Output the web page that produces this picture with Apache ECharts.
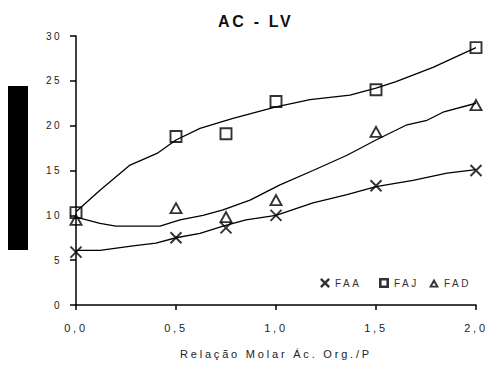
<!DOCTYPE html>
<html>
<head>
<meta charset="utf-8">
<script src="https://cdn.jsdelivr.net/npm/echarts@6/dist/echarts.min.js"></script>
<style>
  html, body { margin: 0; padding: 0; background: #fff; }
  #chart { width: 487px; height: 367px; }
</style>
</head>
<body>
<div id="chart"></div>
<script>
// Measured points (molar ratio, value) for each formulation
const ratios = [0.0, 0.5, 0.75, 1.0, 1.5, 2.0];
const faa = [5.9, 7.5, 8.6, 10.0, 13.3, 15.0];
const faj = [10.3, 18.8, 19.1, 22.7, 24.0, 28.7];
const fad = [9.5, 10.8, 9.8, 11.7, 19.3, 22.3];

// Trend curves traced as [ratio, value] pairs
const faaTrend = [[0, 6.1], [0.12, 6.1], [0.285, 6.6], [0.4, 6.9], [0.5, 7.5], [0.62, 8.0],
  [0.735, 8.8], [0.85, 9.5], [1.0, 10.0], [1.185, 11.4], [1.355, 12.3], [1.5, 13.2],
  [1.685, 13.9], [1.855, 14.7], [2.0, 15.1]];
const fajTrend = [[0, 10.4], [0.12, 12.8], [0.27, 15.6], [0.405, 16.9], [0.5, 18.4],
  [0.62, 19.7], [0.785, 20.8], [1.0, 22.1], [1.17, 22.9], [1.37, 23.4], [1.5, 24.2],
  [1.6, 24.9], [1.785, 26.5], [2.0, 28.7]];
const fadTrend = [[0, 9.8], [0.12, 9.1], [0.2, 8.8], [0.42, 8.8], [0.52, 9.5], [0.635, 10.0],
  [0.735, 10.6], [0.87, 11.7], [1.02, 13.4], [1.185, 15.0], [1.355, 16.7], [1.5, 18.4],
  [1.655, 20.1], [1.755, 20.6], [1.835, 21.5], [2.0, 22.5]];

const seriesNames = ['FAA', 'FAJ', 'FAD'];
const xTicks = { min: 0, max: 2, interval: 0.5 };
const yTicks = { min: 0, max: 30, interval: 5 };

const pair = (xs, ys) => xs.map((x, i) => [x, ys[i]]);
const crossPath = 'path://M0,0L10,10M10,0L0,10';
const font = 'Liberation Sans, Arial, sans-serif';

// Bold solid legend keys (outlines drawn as filled shapes with holes)
const legendIcons = [
  'path://M0,1.7L1.7,0L5,3.3L8.3,0L10,1.7L6.7,5L10,8.3L8.3,10L5,6.7L1.7,10L0,8.3L3.3,5Z',
  'path://M0,0L10,0L10,10L0,10Z M2.6,2.6L2.6,7.4L7.4,7.4L7.4,2.6Z',
  'path://M5,0L10,9L0,9Z M5,4.3L3.1,7.3L6.9,7.3Z'
];

// Tracking (letter spacing) per text size, applied to the SVG text nodes
const tracking = { 16: 2.7, 10: 2.5, 11: 2.8 };

const chart = echarts.init(document.getElementById('chart'), null, { renderer: 'svg' });

function trend(data, name) {
  return {
    name: name, type: 'line', data: data, symbol: 'none', silent: true,
    lineStyle: { color: '#000', width: 1.3 }, z: 2
  };
}

function legendAt(i, left) {
  return {
    data: [{ name: seriesNames[i], icon: legendIcons[i],
             itemStyle: { color: '#000', borderWidth: 0 } }],
    left: left, top: 273,
    itemWidth: 10, itemHeight: 10,
    itemStyle: { color: '#000', borderWidth: 0 },
    textStyle: { fontFamily: font, fontSize: 10, color: '#333' }
  };
}

chart.setOption({
  animation: false,
  backgroundColor: '#fff',
  title: {
    text: 'AC - LV', left: 213, top: 8,
    textStyle: { fontFamily: font, fontSize: 16, fontWeight: 'bold', color: '#111' }
  },
  graphic: [{
    type: 'rect', left: 8, top: 86,
    shape: { width: 20, height: 164 },
    style: { fill: '#000' }
  }],
  legend: [legendAt(0, 315), legendAt(1, 374), legendAt(2, 424)],
  grid: { left: 76, right: 11, top: 36, bottom: 62 },
  xAxis: {
    type: 'value', min: xTicks.min, max: xTicks.max, interval: xTicks.interval,
    name: 'Relação Molar Ác. Org./P', nameLocation: 'middle', nameGap: 43,
    nameTextStyle: { fontFamily: font, fontSize: 11, color: '#222' },
    axisLine: { lineStyle: { color: '#000', width: 1.5 } },
    axisTick: { show: true, length: 5, lineStyle: { color: '#000', width: 1.5 } },
    splitLine: { show: false },
    axisLabel: {
      margin: 17, fontFamily: font, fontSize: 11, color: '#222',
      formatter: v => v.toFixed(1).replace('.', ',')
    }
  },
  yAxis: {
    type: 'value', min: yTicks.min, max: yTicks.max, interval: yTicks.interval,
    axisLine: { show: true, lineStyle: { color: '#000', width: 1.5 } },
    axisTick: { show: true, length: 6, lineStyle: { color: '#000', width: 1.5 } },
    splitLine: { show: false },
    axisLabel: { margin: 14, fontFamily: font, fontSize: 10, color: '#222' }
  },
  series: [
    trend(faaTrend, 'FAA trend'),
    trend(fajTrend, 'FAJ trend'),
    trend(fadTrend, 'FAD trend'),
    {
      name: seriesNames[0], type: 'scatter', data: pair(ratios, faa),
      symbol: crossPath, symbolSize: 11, z: 3,
      itemStyle: { color: 'none', borderColor: '#000', borderWidth: 1.9 }
    },
    {
      name: seriesNames[1], type: 'scatter', data: pair(ratios, faj),
      symbol: 'rect', symbolSize: 11, z: 3,
      itemStyle: { color: 'rgba(255,255,255,0)', borderColor: '#000', borderWidth: 1.9 }
    },
    {
      name: seriesNames[2], type: 'scatter', data: pair(ratios, fad),
      symbol: 'triangle', symbolSize: [11, 10], z: 3,
      itemStyle: { color: 'rgba(255,255,255,0)', borderColor: '#000', borderWidth: 1.9 }
    }
  ]
});

function applyTracking() {
  document.querySelectorAll('#chart svg text').forEach(el => {
    const size = Math.round(parseFloat(getComputedStyle(el).fontSize));
    if (tracking[size] !== undefined) el.style.letterSpacing = tracking[size] + 'px';
  });
}
applyTracking();
chart.on('finished', applyTracking);
</script>
</body>
</html>
